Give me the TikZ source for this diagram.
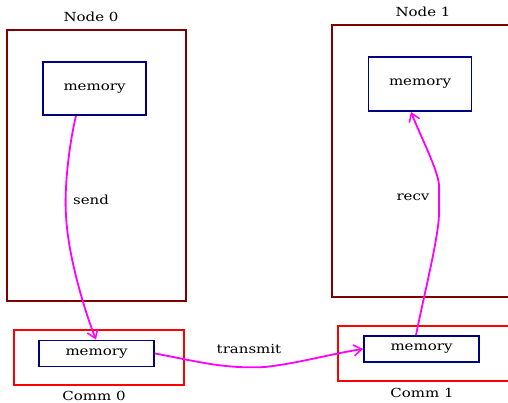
\documentclass[tikz,border=0pt]{standalone}
\usepackage{fontspec}
\setmainfont[FakeStretch=1.2]{DejaVu Serif}
\usetikzlibrary{arrows.meta}
\definecolor{maroonline}{HTML}{800000}
\definecolor{navyline}{HTML}{000080}
\definecolor{redline}{HTML}{FF0000}
\definecolor{magline}{HTML}{FF00FF}
\begin{document}
\begin{tikzpicture}[x=1pt,y=-1pt,
  cluster/.style={draw=maroonline,line width=1.8pt},
  commbox/.style={draw=redline,line width=1.8pt},
  membox/.style={draw=navyline,line width=1.9pt},
  lbl/.style={font=\fontsize{12.5}{14}\selectfont,inner sep=0pt},
  flow/.style={draw=magline,line width=1.8pt,-{Straight Barb[length=8pt,width=11pt,line width=1.5pt]}}]
\useasboundingbox (0,0) rectangle (508,403);
% node clusters
\draw[cluster] (7,30) rectangle (186,301);
\node[lbl] (n0) at (91,17) {Node 0};
\draw[cluster] (510,25) -- (332,25) -- (332,297) -- (510,297);
\node[lbl] (n1) at (423,12) {Node 1};
% comm clusters
\draw[commbox] (14,330) rectangle (184,385);
\node[lbl] (c0) at (94,395.5) {Comm 0};
\draw[commbox] (510,326) -- (338,326) -- (338,381) -- (510,381);
\node[lbl] (c1) at (422,392.5) {Comm 1};
% memory boxes
\node[membox,lbl,minimum width=103pt,minimum height=53pt] (m0) at (94.5,88.5) {memory};
\node[membox,lbl,minimum width=103pt,minimum height=54pt] (m1) at (420,84) {memory};
\node[membox,lbl,minimum width=115pt,minimum height=26pt] (cm0) at (96.5,353.5) {memory};
\node[membox,lbl,minimum width=115pt,minimum height=26pt] (cm1) at (421.5,349) {memory};
% transfers
\draw[flow] (m0.south -| 76,0) .. controls (70,140) and (64,185) .. (66,215)
  .. controls (68,260) and (88,320) .. (cm0.north -| 96,0);
\node[lbl] at (91,200) {send};
\draw[flow] (cm0.east) .. controls (200,362) and (225,369) .. (265,367)
  .. controls (300,363) and (330,354) .. (cm1.west);
\node[lbl] at (249,349) {transmit};
\draw[flow] (cm1.north -| 416,0) .. controls (424,295) and (438,240) .. (439,215)
  -- (439,185) .. controls (438,170) and (420,135) .. (m1.south -| 411,0);
\node[lbl] at (413,197) {recv};
\end{tikzpicture}
\end{document}
